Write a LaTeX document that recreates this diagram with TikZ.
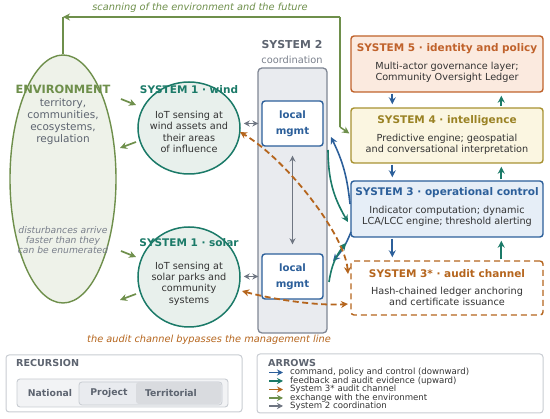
\documentclass[tikz,border=0pt]{standalone}
\usepackage{fontspec}
\setmainfont{DejaVu Sans}
\usetikzlibrary{arrows.meta,shapes.geometric,calc}
\definecolor{envg}{HTML}{6E8F4B}
\definecolor{envfill}{HTML}{EEF2E9}
\definecolor{tealc}{HTML}{1B7A68}
\definecolor{tealfill}{HTML}{E8F0EC}
\definecolor{bluec}{HTML}{2C5F9A}
\definecolor{bluefill}{HTML}{E6EEF7}
\definecolor{orgc}{HTML}{C0622B}
\definecolor{orgfill}{HTML}{FBEADF}
\definecolor{goldc}{HTML}{9A8224}
\definecolor{goldb}{HTML}{A89232}
\definecolor{goldfill}{HTML}{FBF6E1}
\definecolor{audc}{HTML}{B5651D}
\definecolor{grayt}{HTML}{5D6470}
\definecolor{grayl}{HTML}{7A808C}
\definecolor{grayb}{HTML}{7F8694}
\definecolor{grayarr}{HTML}{6F7682}
\definecolor{s2fill}{HTML}{E9EBEF}
\definecolor{txtc}{HTML}{333333}
\definecolor{legb}{HTML}{C8CCD2}
\tikzset{
  sbox/.style={rectangle, rounded corners=3pt, line width=1.4pt, minimum width=192pt, inner sep=0pt},
  stitle/.style={font=\bfseries\fontsize{10.5}{12}\selectfont},
  sbody/.style={font=\fontsize{9.7}{11.3}\selectfont, text=txtc, align=center, inner sep=0pt},
  cmdarr/.style={draw=bluec, line width=1.8pt, -{Stealth[length=7pt,width=7pt]}},
  fbarr/.style={draw=tealc, line width=1.8pt, -{Stealth[length=7pt,width=7pt]}},
  envarr/.style={draw=envg, line width=1.7pt, -{Stealth[length=7pt,width=7pt]}},
  coordarr/.style={draw=grayarr, line width=1.4pt, {Stealth[length=6pt,width=6pt]}-{Stealth[length=6pt,width=6pt]}},
  audarr/.style={draw=audc, line width=1.8pt, dash pattern=on 6pt off 3.5pt, {Stealth[length=7pt,width=7pt]}-{Stealth[length=7pt,width=7pt]}},
  mgmt/.style={rectangle, rounded corners=3pt, draw=bluec, fill=white, line width=1.4pt, minimum width=61pt, minimum height=45pt, align=center, text=bluec, font=\bfseries\fontsize{10.2}{16}\selectfont},
  legtxt/.style={anchor=west, font=\fontsize{8.6}{9}\selectfont, text=txtc, inner sep=0pt},
  rectxt/.style={font=\bfseries\fontsize{9.3}{11}\selectfont, text=grayt},
}
\begin{document}
\begin{tikzpicture}[x=1pt,y=-1pt]
\useasboundingbox (0,0) rectangle (550,419);

% ---------- environment ----------
\node[ellipse, draw=envg, fill=envfill, line width=1.4pt, minimum width=106pt, minimum height=248pt, inner sep=0pt] (env) at (63,179) {};
\node[font=\bfseries\fontsize{11.4}{13}\selectfont, text=envg] (envt) at (63,89) {ENVIRONMENT};
\node[font=\fontsize{10.5}{12}\selectfont, text=grayt, align=center, inner sep=0pt] (envb) at (63,122) {territory,\\communities,\\ecosystems,\\regulation};
\node[font=\itshape\fontsize{9.2}{10.2}\selectfont, text=grayl, align=center, inner sep=0pt] (envd) at (63,240) {disturbances arrive\\faster than they\\can be enumerated};

% ---------- system 1 ----------
\node[ellipse, draw=tealc, fill=tealfill, line width=1.5pt, minimum width=102pt, minimum height=92pt, inner sep=0pt] (w) at (189,128) {};
\node[stitle, text=tealc] (wt) at (189,90) {SYSTEM 1 · wind};
\node[sbody] (wb) at (189,132) {IoT sensing at\\wind assets and\\their areas\\of influence};
\node[ellipse, draw=tealc, fill=tealfill, line width=1.5pt, minimum width=102pt, minimum height=100pt, inner sep=0pt] (s) at (189,277) {};
\node[stitle, text=tealc] (st) at (189,243) {SYSTEM 1 · solar};
\node[sbody] (sb) at (189,283.5) {IoT sensing at\\solar parks and\\community\\systems};

% ---------- system 2 ----------
\node[font=\bfseries\fontsize{10.9}{12}\selectfont, text=grayt] (s2t) at (292,45) {SYSTEM 2};
\node[font=\fontsize{9.8}{11}\selectfont, text=grayl] (s2s) at (292,60) {coordination};
\node[rectangle, rounded corners=4pt, draw=grayb, fill=s2fill, line width=1.3pt, minimum width=69pt, minimum height=265pt, inner sep=0pt] (s2) at (292.5,200.5) {};
\node[mgmt] (m1) at (292.5,123.5) {local\\mgmt};
\node[mgmt] (m2) at (292.5,276.5) {local\\mgmt};

% ---------- right column ----------
\node[sbox, draw=orgc, fill=orgfill, minimum height=56pt] (S5) at (447,64) {};
\node[stitle, text=orgc] (S5t) at (447,49) {SYSTEM 5 · identity and policy};
\node[sbody] (S5b) at (447,72.5) {Multi-actor governance layer;\\Community Oversight Ledger};

\node[sbox, draw=goldb, fill=goldfill, minimum height=55pt] (S4) at (447,135.5) {};
\node[stitle, text=goldc] (S4t) at (447,121) {SYSTEM 4 · intelligence};
\node[sbody] (S4b) at (447,144.5) {Predictive engine; geospatial\\and conversational interpretation};

\node[sbox, draw=bluec, fill=bluefill, minimum height=56pt] (S3) at (447,209) {};
\node[stitle, text=bluec] (S3t) at (447,193) {SYSTEM 3 · operational control};
\node[sbody] (S3b) at (447,216.5) {Indicator computation; dynamic\\LCA/LCC engine; threshold alerting};

\node[sbox, draw=audc, fill=white, dash pattern=on 6pt off 4pt, minimum height=54pt] (S3a) at (447,288) {};
\node[stitle, text=audc] (S3at) at (447,274) {SYSTEM 3* · audit channel};
\node[sbody] (S3ab) at (447,296.5) {Hash-chained ledger anchoring\\and certificate issuance};

% vertical arrows
\draw[cmdarr, shorten >=3pt, shorten <=1pt] ($(S5.south west)+(42,0)$) -- ($(S4.north west)+(42,0)$);
\draw[cmdarr, shorten >=3pt, shorten <=1pt] ($(S4.south west)+(42,0)$) -- ($(S3.north west)+(42,0)$);
\draw[cmdarr, shorten >=3pt, shorten <=1pt] ($(S3.south west)+(42,0)$) -- ($(S3a.north west)+(42,0)$);
\draw[fbarr, shorten >=3pt, shorten <=1pt] ($(S4.north west)+(151,0)$) -- ($(S5.south west)+(151,0)$);
\draw[fbarr, shorten >=3pt, shorten <=1pt] ($(S3.north west)+(151,0)$) -- ($(S4.south west)+(151,0)$);
\draw[fbarr, shorten >=3pt, shorten <=1pt] ($(S3a.north west)+(151,0)$) -- ($(S3.south west)+(151,0)$);

% ---------- scanning loop ----------
\coordinate (scanL) at (63,17);
\coordinate (scanR) at (340,17);
\coordinate (scanB) at (340,127);
\draw[draw=envg, line width=1.5pt] (env.north) -- (scanL);
\draw[envarr, line width=1.5pt] (scanR) -- (scanL);
\draw[draw=envg, line width=1.5pt] (scanR) -- (scanB);
\draw[envarr, line width=1.5pt] (scanB) -- ($(S4.west)+(-1,-2)$);
\node[font=\itshape\fontsize{9.8}{11}\selectfont, text=envg] (scant) at (200,8) {scanning of the environment and the future};

% ---------- environment exchange ----------
\coordinate (e1a) at (121,99);  \coordinate (e1b) at (136,105);
\coordinate (e2a) at (136,142); \coordinate (e2b) at (120,148);
\coordinate (e3a) at (121,251); \coordinate (e3b) at (136,257);
\coordinate (e4a) at (136,294); \coordinate (e4b) at (120,300);
\draw[envarr] (e1a) -- (e1b);
\draw[envarr] (e2a) -- (e2b);
\draw[envarr] (e3a) -- (e3b);
\draw[envarr] (e4a) -- (e4b);

% ---------- coordination ----------
\draw[coordarr, shorten >=3pt, shorten <=3pt] (w.east |- m1.west) -- (m1.west);
\draw[coordarr, shorten >=3pt, shorten <=3pt] (s.east |- m2.west) -- (m2.west);
\draw[coordarr, shorten >=9pt, shorten <=9pt] (m1.south) -- (m2.north);

% ---------- command / feedback curves ----------
\coordinate (c1s) at (350,204); \coordinate (c1e) at (331,137);
\coordinate (f1s) at (328,150); \coordinate (f1e) at (348,222);
\coordinate (c2s) at (351,232); \coordinate (c2e) at (333,261);
\coordinate (f2s) at (329,282); \coordinate (f2e) at (346,243);
\draw[cmdarr, line width=1.6pt] (c1s) to[bend right=10] (c1e);
\draw[fbarr, line width=1.6pt] (f1s) to[bend right=15] (f1e);
\draw[cmdarr, line width=1.6pt] (c2s) to[bend left=10] (c2e);
\draw[fbarr, line width=1.6pt] (f2s) to[bend left=15] (f2e);

% ---------- audit channel ----------
\coordinate (a1s) at (348,274); \coordinate (a1e) at (240,132);
\coordinate (a2s) at (242,291); \coordinate (a2e) at (348,304);
\draw[audarr] (a1s) .. controls (345,235) and (287,160) .. (a1e);
\draw[audarr] (a2s) .. controls (275,300) and (320,306) .. (a2e);
\node[font=\itshape\fontsize{9.8}{11}\selectfont, text=audc] (audt) at (209,340) {the audit channel bypasses the management line};

% ---------- recursion legend ----------
\node[rectangle, rounded corners=3pt, draw=legb, fill=white, line width=1pt, minimum width=236pt, minimum height=57pt, inner sep=0pt] (rec) at (124,383.5) {};
\node[anchor=west, font=\bfseries\fontsize{9.6}{11}\selectfont, text=grayt, inner sep=0pt] (rect) at (16,363) {RECURSION};
\node[rectangle, rounded corners=3pt, draw=legb, fill=s2fill!60, line width=0.9pt, minimum width=211pt, minimum height=28pt, inner sep=0pt] (recA) at (122.5,393) {};
\node[rectangle, rounded corners=3pt, draw=legb, fill=s2fill, line width=0.8pt, minimum width=143pt, minimum height=23pt, inner sep=0pt] (recB) at (150.5,393.5) {};
\node[rectangle, rounded corners=3pt, fill=grayb!30, minimum width=85pt, minimum height=22pt, inner sep=0pt] (recC) at (178.5,393) {};
\node[rectxt] (natl) at (50,393) {National};
\node[rectxt] (proj) at (109,393) {Project};
\node[rectxt] (terr) at (171,393) {Territorial};

% ---------- arrows legend ----------
\node[rectangle, rounded corners=3pt, draw=legb, fill=white, line width=1pt, minimum width=286pt, minimum height=59pt, inner sep=0pt] (leg) at (400,383.5) {};
\node[anchor=west, font=\bfseries\fontsize{9.6}{11}\selectfont, text=grayt, inner sep=0pt] (legt) at (268,363) {ARROWS};
\coordinate (l1a) at (269,372.5); \coordinate (l1b) at (283,372.5);
\coordinate (l2a) at (269,381);   \coordinate (l2b) at (283,381);
\coordinate (l3a) at (269,389.5); \coordinate (l3b) at (283,389.5);
\coordinate (l4a) at (269,398);   \coordinate (l4b) at (283,398);
\coordinate (l5a) at (269,406);   \coordinate (l5b) at (283,406);
\draw[draw=bluec, line width=1.4pt, -{Stealth[length=6pt,width=6pt]}] (l1a) -- (l1b);
\draw[draw=tealc, line width=1.4pt, -{Stealth[length=6pt,width=6pt]}] (l2a) -- (l2b);
\draw[draw=audc, line width=1.4pt, -{Stealth[length=6pt,width=6pt]}] (l3a) -- (l3b);
\draw[draw=envg, line width=1.4pt, -{Stealth[length=6pt,width=6pt]}] (l4a) -- (l4b);
\draw[draw=grayarr, line width=1.4pt, -{Stealth[length=6pt,width=6pt]}] (l5a) -- (l5b);
\node[legtxt] (lt1) at (290,372.5) {command, policy and control (downward)};
\node[legtxt] (lt2) at (290,381) {feedback and audit evidence (upward)};
\node[legtxt] (lt3) at (290,389.5) {System 3* audit channel};
\node[legtxt] (lt4) at (290,398) {exchange with the environment};
\node[legtxt] (lt5) at (290,406) {System 2 coordination};
\end{tikzpicture}
\end{document}
